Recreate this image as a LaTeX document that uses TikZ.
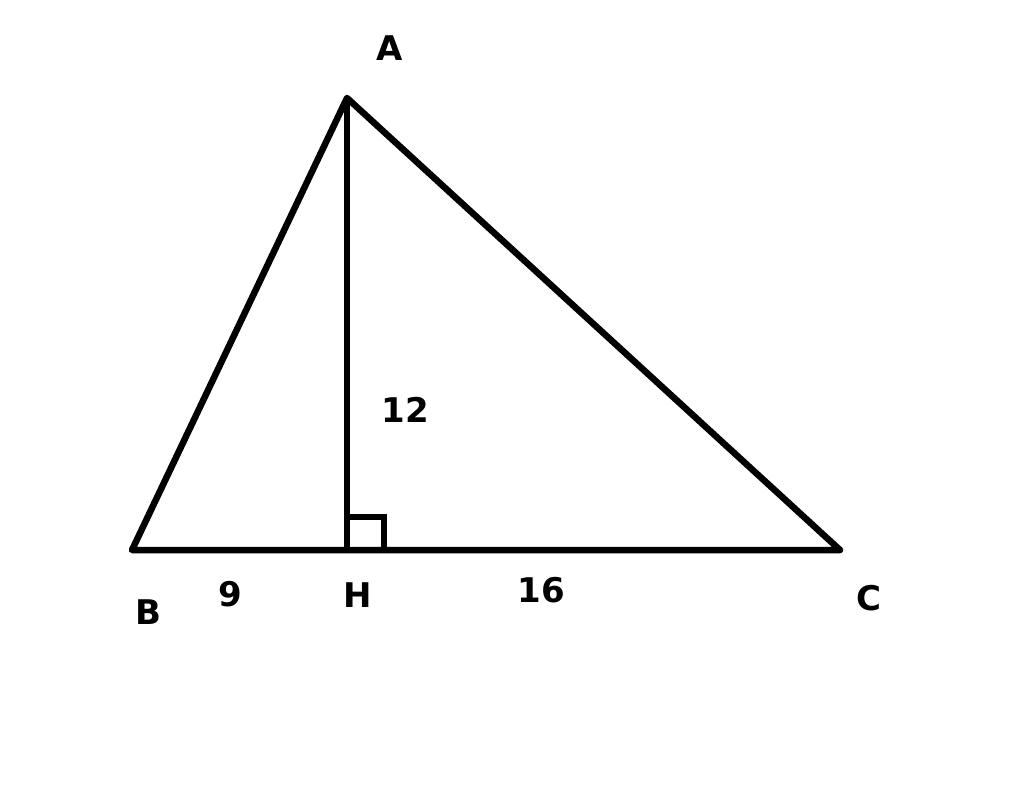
\documentclass[tikz,border=0pt]{standalone}
\usepackage{fontspec}
\setmainfont{DejaVu Sans}
\begin{document}
\begin{tikzpicture}[x=1pt,y=-1pt,
  edge/.style={line width=6.5pt, line join=round},
  lbl/.style={font=\fontsize{34}{40}\selectfont\bfseries, inner sep=0pt}]
\useasboundingbox[fill=white] (0,0) rectangle (1024,800);
\coordinate (A) at (347,98);
\coordinate (B) at (132,550);
\coordinate (C) at (840,550);
\coordinate (H) at (347,550);
\draw[edge] (B) -- (A) -- (C) -- cycle;
\draw[edge] (A) -- (H);
\draw[line width=5.5pt] (347,517) -- (384,517) -- (384,550);
\node[lbl] (la) at (390,48) {A};
\node[lbl] (lb) at (148,612) {B};
\node[lbl] (lc) at (869,598) {C};
\node[lbl] (lh) at (358,595) {H};
\node[lbl] (l9) at (230,594) {9};
\node[lbl] (l16) at (541,590) {16};
\node[lbl] (l12) at (405,410) {12};
\end{tikzpicture}
\end{document}
